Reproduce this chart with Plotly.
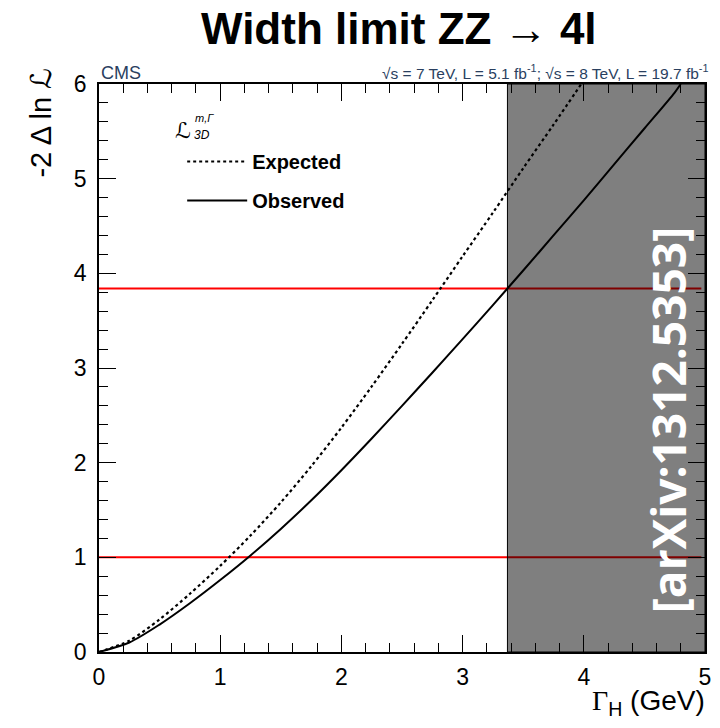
import plotly.graph_objects as go

# ---- data ----
gamma_exp = [0.0, 0.25, 0.5, 0.75, 1.0, 1.25, 1.5, 1.75, 2.0, 2.25, 2.5, 2.75,
             3.0, 3.25, 3.5, 3.75, 4.0]
nll_exp = [0.0, 0.12, 0.345, 0.615, 0.91, 1.23, 1.58, 1.96, 2.37, 2.805, 3.255, 3.715,
           4.18, 4.64, 5.11, 5.57, 6.04]
gamma_obs = [0.0, 0.25, 0.5, 0.75, 1.0, 1.25, 1.5, 1.75, 2.0, 2.25, 2.5, 2.75,
             3.0, 3.25, 3.5, 3.75, 4.0, 4.25, 4.5, 4.75, 4.8]
nll_obs = [0.0, 0.10, 0.29, 0.515, 0.76, 1.02, 1.30, 1.60, 1.92, 2.255, 2.60, 2.95,
           3.305, 3.665, 4.03, 4.40, 4.77, 5.15, 5.53, 5.91, 6.0]
cl_levels = [1.0, 3.84]          # 68% and 95% CL thresholds
excluded_from = 3.37             # observed 95% CL upper limit on Gamma_H
x_range = [0, 5]
y_range = [0, 6]
x_ticks = [0, 1, 2, 3, 4, 5]
y_ticks = [0, 1, 2, 3, 4, 5, 6]

# ---- geometry (pixels) ----
W, H = 720, 728
L, R, T, B = 99, 9, 84, 76
pw, ph = W - L - R, H - T - B


def px(xp):
    return (xp - L) / pw


def py(yp):
    return (H - B - yp) / ph


FONT = "Liberation Sans, Arial, Helvetica, sans-serif"
SCRIPT_L = "<span style='font-family:DejaVu Sans'><i>ℒ</i></span>"

fig = go.Figure()

# CL threshold lines
for lvl in cl_levels:
    fig.add_trace(go.Scatter(x=[x_range[0], x_range[1] - 0.03], y=[lvl, lvl], mode="lines",
                             line=dict(color="#ff0000", width=2), showlegend=False,
                             hoverinfo="skip"))

fig.add_trace(go.Scatter(x=gamma_exp, y=nll_exp, mode="lines", name="Expected",
                         line=dict(color="black", width=2.2, dash="3px,3px", shape="spline",
                                   smoothing=0.8),
                         legendgroup="a", cliponaxis=True))
fig.add_trace(go.Scatter(x=gamma_obs, y=nll_obs, mode="lines", name="Observed",
                         line=dict(color="black", width=2, shape="spline", smoothing=0.8),
                         legendgroup="b"))

# excluded region
fig.add_shape(type="rect", xref="x", yref="y", x0=excluded_from, x1=x_range[1],
              y0=y_range[0], y1=y_range[1], fillcolor="rgba(0,0,0,0.5)",
              line=dict(color="black", width=1), layer="above")

axis_common = dict(showline=True, linecolor="black", linewidth=1.5, mirror="allticks",
                   ticks="inside", tickcolor="black", tickwidth=1, showgrid=False,
                   zeroline=False, tickfont=dict(family=FONT, size=23, color="black"))

fig.update_xaxes(range=x_range, tickvals=x_ticks, ticklen=17,
                 minor=dict(dtick=0.2, ticklen=9, ticks="inside", tickcolor="black"),
                 ticklabelstandoff=4, **axis_common)
fig.update_yaxes(range=y_range, tickvals=y_ticks, ticklen=17,
                 minor=dict(dtick=0.2, ticklen=9, ticks="inside", tickcolor="black"),
                 ticklabelstandoff=6, **axis_common)

ann = []
# title
ann.append(dict(text="<b>Width limit ZZ → 4l</b>",
                x=px(402), y=py(29), xref="paper", yref="paper", showarrow=False,
                xanchor="center", yanchor="middle",
                font=dict(family=FONT, size=44, color="black")))
# CMS label
ann.append(dict(text="CMS", x=0, y=py(73), xref="paper", yref="paper", xanchor="left",
                yanchor="middle", showarrow=False, font=dict(family=FONT, size=18)))
ann.append(dict(text="√s = 7 TeV, L = 5.1 fb<sup>-1</sup>; √s = 8 TeV, L = 19.7 fb<sup>-1</sup>",
                x=1.0, y=py(72), xref="paper", yref="paper", xanchor="right", xshift=5,
                yanchor="middle", showarrow=False, font=dict(family=FONT, size=15.5)))
# axis titles
ann.append(dict(text="-2 Δ ln " + SCRIPT_L, x=px(40), y=py(66), xref="paper", yref="paper",
                xanchor="center", yanchor="top", textangle=-90, showarrow=False,
                font=dict(family=FONT, size=29, color="black")))
ann.append(dict(text="<span style='font-family:Liberation Serif'>Γ</span><sub>H</sub> (GeV)",
                x=px(713), y=py(702), xref="paper", yref="paper", xanchor="right",
                yanchor="middle", showarrow=False,
                font=dict(family=FONT, size=28, color="black")))
# legend header L^{m,Gamma}_{3D}
ann.append(dict(text="<i>ℒ</i>", x=px(184), y=py(130), xref="paper", yref="paper",
                showarrow=False, xanchor="center", yanchor="middle",
                font=dict(family="DejaVu Sans", size=22, color="black")))
ann.append(dict(text="<i>m,Γ</i>", x=px(194), y=py(118), xref="paper", yref="paper",
                xanchor="left", yanchor="middle", showarrow=False,
                font=dict(family=FONT, size=11, color="black")))
ann.append(dict(text="<i>3D</i>", x=px(193), y=py(135), xref="paper", yref="paper",
                xanchor="left", yanchor="middle", showarrow=False,
                font=dict(family=FONT, size=12, color="black")))
# arXiv watermark
ann.append(dict(text="<b>[arXiv:1312.5353]</b>", x=px(674), y=py(420), xref="paper",
                yref="paper", textangle=-90, showarrow=False, xanchor="center",
                yanchor="middle",
                font=dict(family="Open Sans", size=46, color="white")))

fig.update_layout(
    width=W, height=H, margin=dict(l=L, r=R, t=T, b=B),
    plot_bgcolor="white", paper_bgcolor="white",
    annotations=ann,
    showlegend=True,
    legend=dict(x=px(183), y=py(142), xanchor="left", yanchor="top", itemwidth=60,
                bgcolor="rgba(0,0,0,0)", borderwidth=0, tracegroupgap=10,
                font=dict(family=FONT, size=20, color="black", weight="bold")),
)

fig.write_html("out.html")
